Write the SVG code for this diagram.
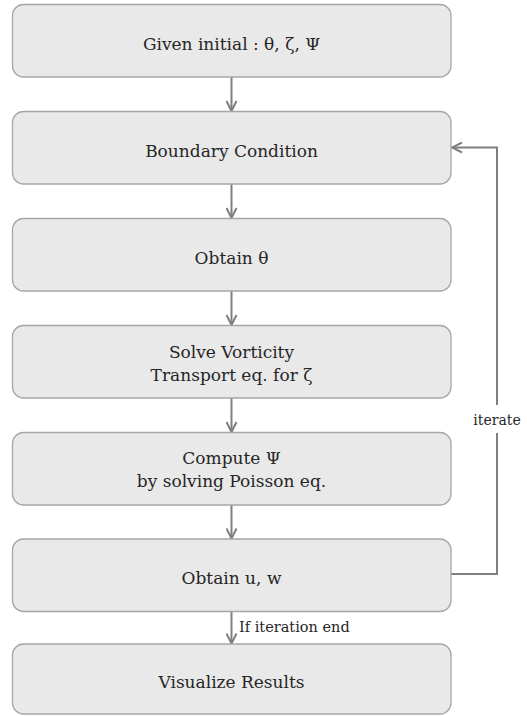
<svg xmlns="http://www.w3.org/2000/svg" width="527" height="716" viewBox="0 0 527 716">
<style>
.box{fill:#e9e9e9;stroke:#a6a6a6;stroke-width:1.3}
.t{font-family:"DejaVu Serif","Liberation Serif",serif;font-size:17px;fill:#262626;text-anchor:middle}
.lbl{font-family:"DejaVu Serif","Liberation Serif",serif;font-size:14.5px;fill:#262626}
.c{fill:none;stroke:#7f7f7f;stroke-width:2}
</style>
<defs>
<marker id="ah" viewBox="0 0 12 12" refX="11" refY="6" markerWidth="12" markerHeight="12" markerUnits="userSpaceOnUse" orient="auto">
<path d="M1,1 L11,6 L1,11" fill="none" stroke="#7f7f7f" stroke-width="2"/>
</marker>
</defs>
<rect width="527" height="716" fill="#ffffff"/>
<g id="connectors">
<line class="c" x1="231.5" y1="77" x2="231.5" y2="111" marker-end="url(#ah)"/>
<line class="c" x1="231.5" y1="184" x2="231.5" y2="218" marker-end="url(#ah)"/>
<line class="c" x1="231.5" y1="291" x2="231.5" y2="325" marker-end="url(#ah)"/>
<line class="c" x1="231.5" y1="398" x2="231.5" y2="432" marker-end="url(#ah)"/>
<line class="c" x1="231.5" y1="505" x2="231.5" y2="538.5" marker-end="url(#ah)"/>
<line class="c" x1="231.5" y1="611.5" x2="231.5" y2="643.5" marker-end="url(#ah)"/>
<path class="c" d="M451,574 H497 V147.5 H452" marker-end="url(#ah)"/>
<rect x="470" y="405" width="54" height="28" fill="#ffffff"/>
<text class="lbl" x="497" y="425" text-anchor="middle" style="font-size:14px">iterate</text>
<text class="lbl" x="239" y="632">If iteration end</text>
</g>
<g id="n1"><rect class="box" x="12.5" y="4.5" width="438.5" height="72.5" rx="11"/><text class="t" x="231.5" y="49.5">Given initial : θ, ζ, Ψ</text></g>
<g id="n2"><rect class="box" x="12.5" y="111.5" width="438.5" height="72.5" rx="11"/><text class="t" x="231.5" y="157">Boundary Condition</text></g>
<g id="n3"><rect class="box" x="12.5" y="218.5" width="438.5" height="72.5" rx="11"/><text class="t" x="231.5" y="264">Obtain θ</text></g>
<g id="n4"><rect class="box" x="12.5" y="325.5" width="438.5" height="72.5" rx="11"/><text class="t" x="231.5" y="357.5">Solve Vorticity</text><text class="t" x="231.5" y="380.5">Transport eq. for ζ</text></g>
<g id="n5"><rect class="box" x="12.5" y="432.5" width="438.5" height="72.5" rx="11"/><text class="t" x="231.5" y="464">Compute Ψ</text><text class="t" x="231.5" y="487">by solving Poisson eq.</text></g>
<g id="n6"><rect class="box" x="12.5" y="539" width="438.5" height="72.5" rx="11"/><text class="t" x="231.5" y="584">Obtain u, w</text></g>
<g id="n7"><rect class="box" x="12.5" y="644" width="438.5" height="70" rx="11"/><text class="t" x="231.5" y="688">Visualize Results</text></g>
</svg>
